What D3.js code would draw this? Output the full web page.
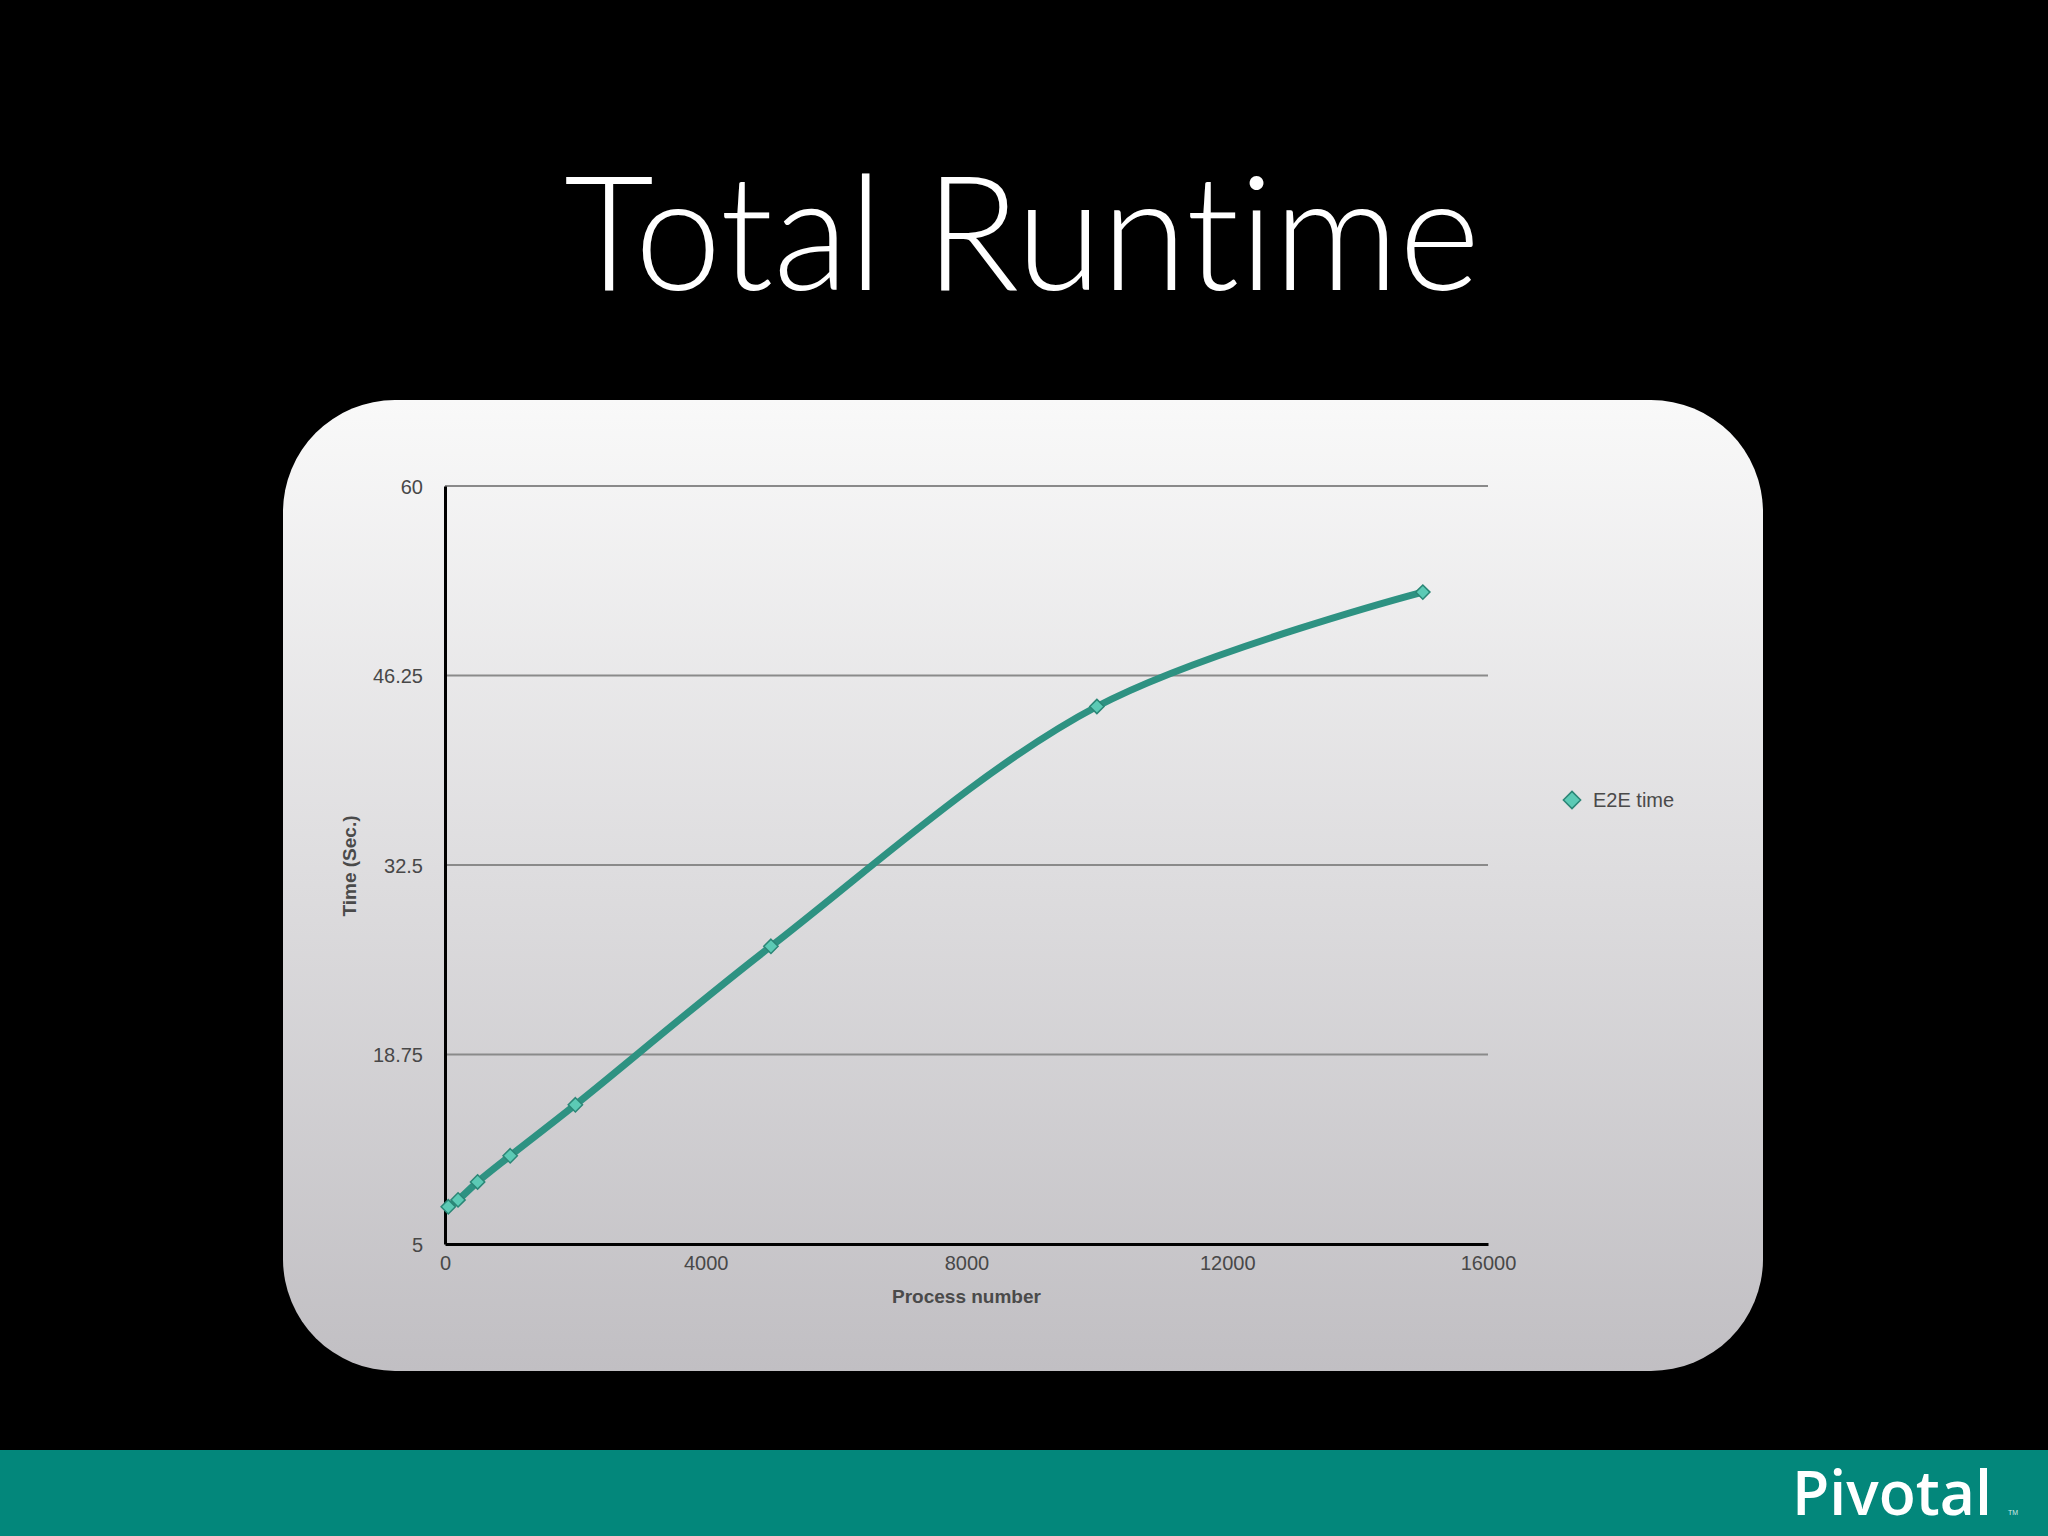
<html>
<head>
	<meta charset="utf-8">
	<script src="https://d3js.org/d3.v7.min.js"></script>
	<style>
		body { margin: 0; background-color: #000; }
		svg { display: block; }
		text { font-variant-ligatures: none; }
	</style>
</head>
<body>
<script>
// *** chart data
var processNumber = [50, 200, 500, 1000, 2000, 5000, 10000, 15000];
var e2eTime = [7.7, 8.2, 9.5, 11.4, 15.1, 26.6, 44.0, 52.3];
var xTicks = [0, 4000, 8000, 12000, 16000];
var yTicks = [5, 18.75, 32.5, 46.25, 60];
var seriesName = "E2E time";

var W = 2048, H = 1536;
var margin = { top: 486, right: 560, bottom: 292, left: 445 };
var width = W - margin.left - margin.right,
    height = H - margin.top - margin.bottom;

var svg = d3.select("body").append("svg")
	.attr("width", W)
	.attr("height", H);

// *** background, panel, footer
svg.append("rect").attr("width", W).attr("height", H).attr("fill", "#000");

var defs = svg.append("defs");
var grad = defs.append("linearGradient").attr("id", "panelGrad")
	.attr("x1", 0).attr("y1", 0).attr("x2", 0).attr("y2", 1);
grad.append("stop").attr("offset", "0%").attr("stop-color", "#f9f9f9");
grad.append("stop").attr("offset", "100%").attr("stop-color", "#c1bfc3");

svg.append("rect")
	.attr("x", 283).attr("y", 400)
	.attr("width", 1480).attr("height", 971)
	.attr("rx", 112).attr("ry", 112)
	.attr("fill", "url(#panelGrad)");

svg.append("rect")
	.attr("x", 0).attr("y", 1450)
	.attr("width", W).attr("height", H - 1450)
	.attr("fill", "#03877b");

svg.append("text")
	.attr("x", 1792).attr("y", 1515)
	.attr("text-anchor", "start")
	.attr("fill", "#fff")
	.attr("font-family", "'Open Sans', sans-serif")
	.attr("font-size", 62)
	.attr("font-weight", 600)
	.attr("textLength", 200)
	.attr("lengthAdjust", "spacingAndGlyphs")
	.text("Pivotal");
svg.append("text")
	.attr("x", 2008).attr("y", 1515)
	.attr("text-anchor", "start")
	.attr("fill", "#cfe9e5")
	.attr("font-family", "'Liberation Sans', sans-serif")
	.attr("font-size", 7)
	.text("TM");

// *** title
svg.append("text")
	.attr("x", 1022).attr("y", 290)
	.attr("text-anchor", "middle")
	.attr("fill", "#fff")
	.attr("font-family", "Lato, 'Open Sans', sans-serif")
	.attr("font-weight", 300)
	.attr("font-size", 160)
	.attr("textLength", 916)
	.attr("lengthAdjust", "spacingAndGlyphs")
	.text("Total Runtime");

// *** scales
var xScale = d3.scaleLinear().domain([0, 16000]).range([0, width]);
var yScale = d3.scaleLinear().domain([5, 60]).range([height, 0]);

var g = svg.append("g")
	.attr("transform", "translate(" + margin.left + "," + margin.top + ")");

// grid lines
g.selectAll("line.grid")
	.data(yTicks.slice(1))
	.enter().append("line")
	.attr("class", "grid")
	.attr("x1", 0).attr("x2", width)
	.attr("y1", function(d){ return yScale(d); })
	.attr("y2", function(d){ return yScale(d); })
	.attr("stroke", "#8a8a8a")
	.attr("stroke-width", 2);

// axes
var xAxis = d3.axisBottom(xScale).tickValues(xTicks).tickSize(0).tickPadding(12)
	.tickFormat(d3.format("d"));
var yAxis = d3.axisLeft(yScale).tickValues(yTicks).tickSize(0).tickPadding(22)
	.tickFormat(function(d){ return String(d); });

var xg = g.append("g").attr("transform", "translate(0," + height + ")").call(xAxis);
var yg = g.append("g").call(yAxis);

[xg, yg].forEach(function(ax){
	ax.select(".domain").attr("stroke", "#000").attr("stroke-width", 3);
	ax.selectAll("text")
		.attr("fill", "#484848")
		.attr("font-family", "'Liberation Sans', Arial, sans-serif")
		.attr("font-size", 20);
});
yg.selectAll("text").attr("dy", "0.35em");

// axis titles
svg.append("text")
	.attr("x", margin.left + width / 2).attr("y", 1303)
	.attr("text-anchor", "middle")
	.attr("fill", "#4a4a4a")
	.attr("font-family", "'Liberation Sans', Arial, sans-serif")
	.attr("font-weight", "bold")
	.attr("font-size", 19)
	.text("Process number");

svg.append("text")
	.attr("transform", "translate(356,866) rotate(-90)")
	.attr("text-anchor", "middle")
	.attr("fill", "#4a4a4a")
	.attr("font-family", "'Liberation Sans', Arial, sans-serif")
	.attr("font-weight", "bold")
	.attr("font-size", 19)
	.text("Time (Sec.)");

// *** line
var data = processNumber.map(function(p, i){ return { x: p, y: e2eTime[i] }; });

var line = d3.line()
	.x(function(d){ return xScale(d.x); })
	.y(function(d){ return yScale(d.y); })
	.curve(d3.curveCatmullRom.alpha(0.5));

g.append("path")
	.datum(data)
	.attr("fill", "none")
	.attr("stroke", "#2e9282")
	.attr("stroke-width", 7)
	.attr("stroke-linecap", "round")
	.attr("d", line);

var diamond = d3.symbol().type(d3.symbolDiamond2).size(130);

g.selectAll("path.pt")
	.data(data)
	.enter().append("path")
	.attr("class", "pt")
	.attr("transform", function(d){ return "translate(" + xScale(d.x) + "," + yScale(d.y) + ")"; })
	.attr("d", diamond)
	.attr("fill", "#5ccab5")
	.attr("stroke", "#2b8676")
	.attr("stroke-width", 1.5);

// *** legend
var legend = svg.append("g").attr("transform", "translate(1572,800)");
legend.append("path")
	.attr("d", d3.symbol().type(d3.symbolDiamond2).size(190))
	.attr("fill", "#5ccab5")
	.attr("stroke", "#2b8676")
	.attr("stroke-width", 1.5);
legend.append("text")
	.attr("x", 21).attr("y", 0).attr("dy", "0.35em")
	.attr("fill", "#4a4a4a")
	.attr("font-family", "'Liberation Sans', Arial, sans-serif")
	.attr("font-size", 20)
	.text(seriesName);
</script>
</body>
</html>
